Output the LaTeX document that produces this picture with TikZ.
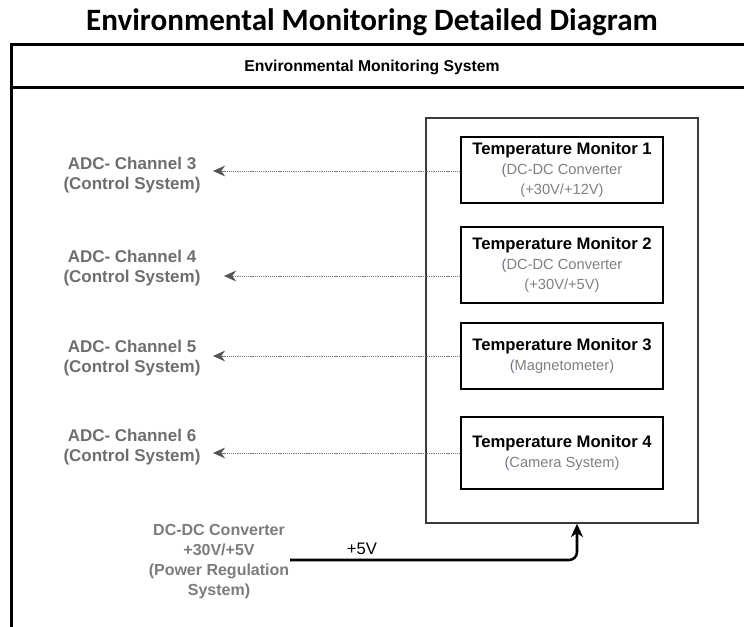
\documentclass[tikz,border=0pt]{standalone}
\usepackage{fontspec}
\setmainfont{Liberation Sans}
\newfontfamily\titlefont{Carlito}
\usetikzlibrary{arrows.meta}

\definecolor{labelgray}{HTML}{6E6E6E}
\definecolor{subgray}{HTML}{808080}
\definecolor{parengray}{HTML}{6C6C94}
\definecolor{dotgray}{HTML}{7A7A7A}
\definecolor{tipgray}{HTML}{555555}
\definecolor{framegray}{HTML}{3A3A3A}

\newcommand{\mtitle}[1]{{\color{black}\fontsize{12.5}{15}\selectfont\bfseries #1}}
\newcommand{\lp}{{\color{parengray}(}}

\begin{document}
\begin{tikzpicture}[x=0.75pt,y=-0.75pt,
  monitor/.style={draw=black, line width=1.9pt, minimum width=151.5pt,
    align=center, inner sep=0pt, text=subgray,
    font=\fontsize{11}{15}\selectfont},
  adc/.style={align=center, inner sep=0pt, text=labelgray,
    font=\fontsize{12.75}{15}\selectfont\bfseries},
  sig/.style={draw=dotgray, line width=0.6pt, dash pattern=on 0.8pt off 0.6pt,
    -{Stealth[length=9pt,width=8pt,inset=2.8pt,color=tipgray]}},
  pwr/.style={draw=black, line width=1.9pt, rounded corners=6pt,
    -{Stealth[length=10pt,width=9pt,inset=3pt]}}
]
\useasboundingbox (0,0) rectangle (744,627);
\clip (0,0) rectangle (744,627);

% page title
\node[inner sep=0pt, font=\titlefont\fontsize{23.3}{27}\selectfont\bfseries] (title) at (372,22)
  {Environmental Monitoring Detailed Diagram};

% outer system frame with its header band
\draw[line width=2.25pt] (11,44.5) rectangle (800,700);
\draw[line width=2.25pt] (11,88) -- (800,88);
\node[inner sep=0pt, font=\fontsize{11.8}{14}\selectfont\bfseries] (header) at (372,67)
  {Environmental Monitoring System};

% container for the four monitors
\node[draw=framegray, line width=1.1pt, minimum width=204pt, minimum height=303.75pt,
  inner sep=0pt] (cont) at (562,320.5) {};

\node[monitor, minimum height=49.5pt] (m1) at (562,170)
  {\mtitle{Temperature Monitor 1}\\\lp DC-DC Converter\\(+30V/+12V)};
\node[monitor, minimum height=57pt] (m2) at (562,265)
  {\mtitle{Temperature Monitor 2}\\\lp DC-DC Converter\\(+30V/+5V)};
\node[monitor, minimum height=49.5pt] (m3) at (562,356)
  {\mtitle{Temperature Monitor 3}\\\lp Magnetometer)};
\node[monitor, minimum height=54pt] (m4) at (562,453)
  {\mtitle{Temperature Monitor 4}\\\lp Camera System)};

% ADC channel destinations
\node[adc] (a3) at (132,175) {ADC- Channel 3\\(Control System)};
\node[adc] (a4) at (132,268) {ADC- Channel 4\\(Control System)};
\node[adc] (a5) at (132,358) {ADC- Channel 5\\(Control System)};
\node[adc] (a6) at (132,447) {ADC- Channel 6\\(Control System)};

\coordinate (t3) at (213,171);
\coordinate (t4) at (224,276);
\coordinate (t5) at (213,356);
\coordinate (t6) at (213,453);

\draw[sig] (m1.west |- t3) -- (t3);
\draw[sig] (m2.west |- t4) -- (t4);
\draw[sig] (m3.west |- t5) -- (t5);
\draw[sig] (m4.west |- t6) -- (t6);

% power supply feeding the container
\node[align=center, inner sep=0pt, text=labelgray!90,
  font=\fontsize{12}{15}\selectfont\bfseries] (psu) at (219,562)
  {DC-DC Converter\\+30V/+5V\\(Power Regulation\\System)};
\coordinate (ps) at (290,560);
\draw[pwr] (ps) -| ([xshift=11.25pt]cont.south);
\node[inner sep=0pt, font=\fontsize{12.5}{15}\selectfont] (v5) at (362,549) {+5V};
\end{tikzpicture}
\end{document}
